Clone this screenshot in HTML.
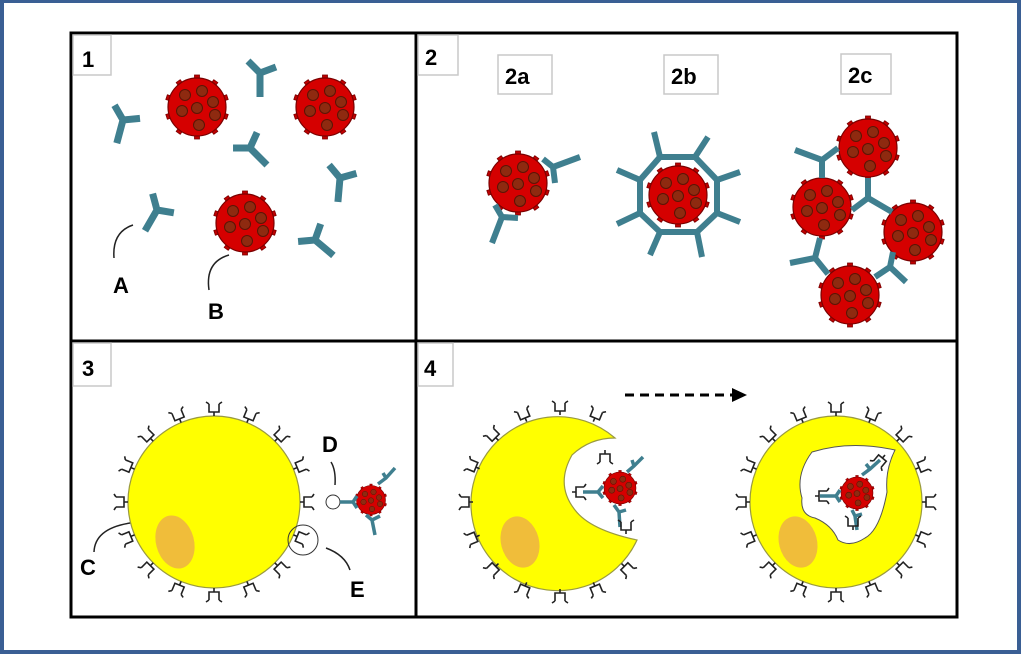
<!DOCTYPE html>
<html><head><meta charset="utf-8">
<style>
html,body{margin:0;padding:0;background:#fff;}
body{width:1024px;height:655px;overflow:hidden;}
svg{display:block;}
text{font-family:"Liberation Sans",sans-serif;font-weight:bold;}
</style></head>
<body>
<svg id="s" width="1024" height="655" viewBox="0 0 1024 655" xmlns="http://www.w3.org/2000/svg">
<defs>
  <g id="sp" fill="#c00000" stroke="#7a0000" stroke-width="0.8">
    <rect x="-2.5" y="-32" width="5" height="5"/>
  </g>
  <g id="vir">
    <use href="#sp"/><use href="#sp" transform="rotate(36)"/><use href="#sp" transform="rotate(72)"/>
    <use href="#sp" transform="rotate(108)"/><use href="#sp" transform="rotate(144)"/><use href="#sp" transform="rotate(180)"/>
    <use href="#sp" transform="rotate(216)"/><use href="#sp" transform="rotate(252)"/><use href="#sp" transform="rotate(288)"/>
    <use href="#sp" transform="rotate(324)"/>
    <circle r="29" fill="#d50000" stroke="#7a0000" stroke-width="1.2"/>
    <g fill="#8e2a10" stroke="#5a1505" stroke-width="1">
      <circle cx="-12" cy="-12" r="5.5"/><circle cx="5" cy="-16" r="5.5"/>
      <circle cx="16" cy="-5" r="5.5"/><circle cx="-15" cy="4" r="5.5"/>
      <circle cx="0" cy="1" r="5.5"/><circle cx="18" cy="8" r="5.5"/>
      <circle cx="2" cy="18" r="5.5"/>
    </g>
  </g>
  <path id="ab" d="M0,0 L0,24 M0,0 L-12,-12 M0,0 L16,-6" fill="none" stroke="#3f7f8f" stroke-width="7"/>
</defs>
<rect x="2" y="1" width="1017" height="651" fill="#fff" stroke="#3a5f94" stroke-width="4"/>
<g fill="none" stroke="#000" stroke-width="3">
  <rect x="71" y="33" width="886" height="584"/>
  <line x1="416" y1="33" x2="416" y2="617"/>
  <line x1="71" y1="341" x2="957" y2="341"/>
</g>
<g fill="#fff" stroke="#c8c8c8" stroke-width="1.5">
  <rect x="73" y="35" width="38" height="40"/>
  <rect x="418" y="35" width="40" height="40"/>
  <rect x="73" y="343" width="38" height="43"/>
  <rect x="418" y="343" width="35" height="43"/>
  <rect x="498" y="55" width="54" height="39"/>
  <rect x="664" y="55" width="54" height="39"/>
  <rect x="841" y="54" width="50" height="40"/>
</g>
<g font-size="22" fill="#000">
  <text x="82" y="67">1</text><text x="425" y="65">2</text>
  <text x="82" y="376">3</text><text x="424" y="376">4</text>
  <text x="505" y="84">2a</text><text x="671" y="84">2b</text><text x="848" y="83">2c</text>
  <text x="113" y="293">A</text><text x="208" y="319">B</text>
  <text x="80" y="575">C</text><text x="322" y="452">D</text><text x="350" y="597">E</text>
</g>
<g fill="none" stroke="#222" stroke-width="1.5">
  <path d="M133,225 Q112,232 114,258"/>
  <path d="M229,255 Q205,262 209,290"/>
  <path d="M138,522 Q95,526 94,552"/>
  <path d="M331,462 Q336,470 335,485"/>
  <path d="M326,548 Q345,555 350,570"/>
</g>
<!-- panel 1 -->
<use href="#vir" transform="translate(197,107)"/>
<use href="#vir" transform="translate(325,107)"/>
<use href="#vir" transform="translate(245,223)"/>
<use href="#ab" transform="translate(123,120) rotate(15)"/>
<use href="#ab" transform="translate(260,73) rotate(0)"/>
<use href="#ab" transform="translate(250,148) rotate(-45)"/>
<use href="#ab" transform="translate(340,178) rotate(5)"/>
<use href="#ab" transform="translate(157,210) rotate(30)"/>
<use href="#ab" transform="translate(315,240) rotate(-50)"/>
<!-- panel 2 -->
<use href="#vir" transform="translate(518,183)"/>
<use href="#vir" transform="translate(678,195)"/>
<use href="#vir" transform="translate(868,148)"/>
<use href="#vir" transform="translate(822,207)"/>
<use href="#vir" transform="translate(913,232)"/>
<use href="#vir" transform="translate(850,295)"/>
<g fill="none" stroke="#3f7f8f" stroke-width="6" stroke-linejoin="round">
  <path d="M543,159 L553,167 L555,183"/><path d="M553,167 L580,157"/>
  <path d="M495,205 L502,217 L518,218"/><path d="M502,217 L492,243"/>
  <polygon points="660,157 695,157 717,180 717,213 697,232 660,232 640,213 640,180"/>
  <path d="M660,157 L654,132 M695,157 L708,137 M717,180 L740,172 M717,213 L740,222 M697,232 L702,257 M660,232 L650,255 M640,213 L617,224 M640,180 L617,170"/>
  <path d="M838,148 L822,160 L795,150"/><path d="M822,160 L822,178"/>
  <path d="M868,178 L868,198 L852,210"/><path d="M868,198 L892,212"/>
  <path d="M820,238 L815,258 L790,263"/><path d="M815,258 L828,274"/>
  <path d="M893,252 L890,267 L875,277"/><path d="M890,267 L906,282"/>
</g>
<!-- panel 3 -->
<circle cx="214" cy="502" r="86" fill="#ffff00" stroke="#9a9a40" stroke-width="1.2"/>
<ellipse cx="175" cy="542" rx="19" ry="27" transform="rotate(-15 175 542)" fill="#f0bd3a"/>
<circle cx="333" cy="502" r="7" fill="#fff" stroke="#333" stroke-width="1"/>
<circle cx="303" cy="540" r="15" fill="none" stroke="#333" stroke-width="1"/>
<use href="#vir" transform="translate(371,500) scale(0.5)"/>
<g fill="none" stroke="#3f7f8f" stroke-width="3.5">
  <path d="M340,502 L353,502 L357,496 M353,502 L357,508"/>
  <path d="M378,484 L386,478 L395,468 M386,478 L383,473"/>
  <path d="M366,515 L372,520 L375,535 M372,520 L380,516"/>
</g>
<!-- panel 4 left -->
<path d="M615,438 A87 87 0 1 0 637,540 Q590,530 575,510 Q555,485 572,455 Q590,438 615,438 Z" fill="#ffff00" stroke="#9a9a40" stroke-width="1.2"/>
<ellipse cx="520" cy="542" rx="19" ry="26" transform="rotate(-15 520 542)" fill="#f0bd3a"/>
<use href="#vir" transform="translate(620,488) scale(0.55)"/>
<g fill="none" stroke="#3f7f8f" stroke-width="3.5">
  <path d="M583,492 L598,492 L603,486 M598,492 L603,498"/>
  <path d="M627,472 L634,466 L643,457 M634,466 L632,460"/>
  <path d="M614,505 L619,512 L620,527 M619,512 L626,510"/>
</g>
<!-- panel 4 right -->
<circle cx="836" cy="502" r="86" fill="#ffff00" stroke="#9a9a40" stroke-width="1.2"/>
<path d="M812,452 Q850,440 895,450 Q885,470 887,492 Q880,530 865,538 Q850,548 838,540 Q832,525 815,518 Q800,515 802,498 Q795,475 812,452 Z" fill="#fff" stroke="#555" stroke-width="1"/>
<ellipse cx="798" cy="542" rx="19" ry="26" transform="rotate(-15 798 542)" fill="#f0bd3a"/>
<use href="#vir" transform="translate(857,493) scale(0.55)"/>
<g fill="none" stroke="#3f7f8f" stroke-width="3.5">
  <path d="M820,496 L836,496 L840,490 M836,496 L840,502"/>
  <path d="M862,475 L870,469 L880,460 M870,469 L866,464"/>
  <path d="M852,510 L855,516 L857,530 M855,516 L862,514"/>
</g>
<g stroke="#000" stroke-width="3" stroke-dasharray="9,6">
  <line x1="625" y1="395" x2="732" y2="395"/>
</g>
<polygon points="732,388 747,395 732,402" fill="#000"/>
<g id="rec" fill="none" stroke="#222" stroke-width="1.6"></g>
<script>
(function(){
var g=document.getElementById('rec');
var ns='http://www.w3.org/2000/svg';
var D='M0,0 L0,-4 M-5,-12 L-5,-4 L5,-4 L5,-12 M-5,-12 L-8,-14 M5,-12 L8,-14';
function add(t){var p=document.createElementNS(ns,'path');p.setAttribute('d',D);p.setAttribute('transform',t);g.appendChild(p);}
function ring(cx,cy,r,list){list.forEach(function(a){add('translate('+cx+','+cy+') rotate('+a+') translate(0,'+(-r)+')');});}
var all=[];for(var a=0;a<360;a+=22.5)all.push(a);
ring(214,502,86,all);
ring(560,502,87,all.filter(function(a){return !(a>25&&a<125);}));
ring(836,502,86,all);
function l(x,y,d){add('translate('+x+','+y+') rotate('+d+')');}
l(605,450,180);l(572,492,90);l(626,534,0);
l(815,496,90);l(885,455,-140);l(853,530,0);
})();
</script>
</svg>
</body></html>
